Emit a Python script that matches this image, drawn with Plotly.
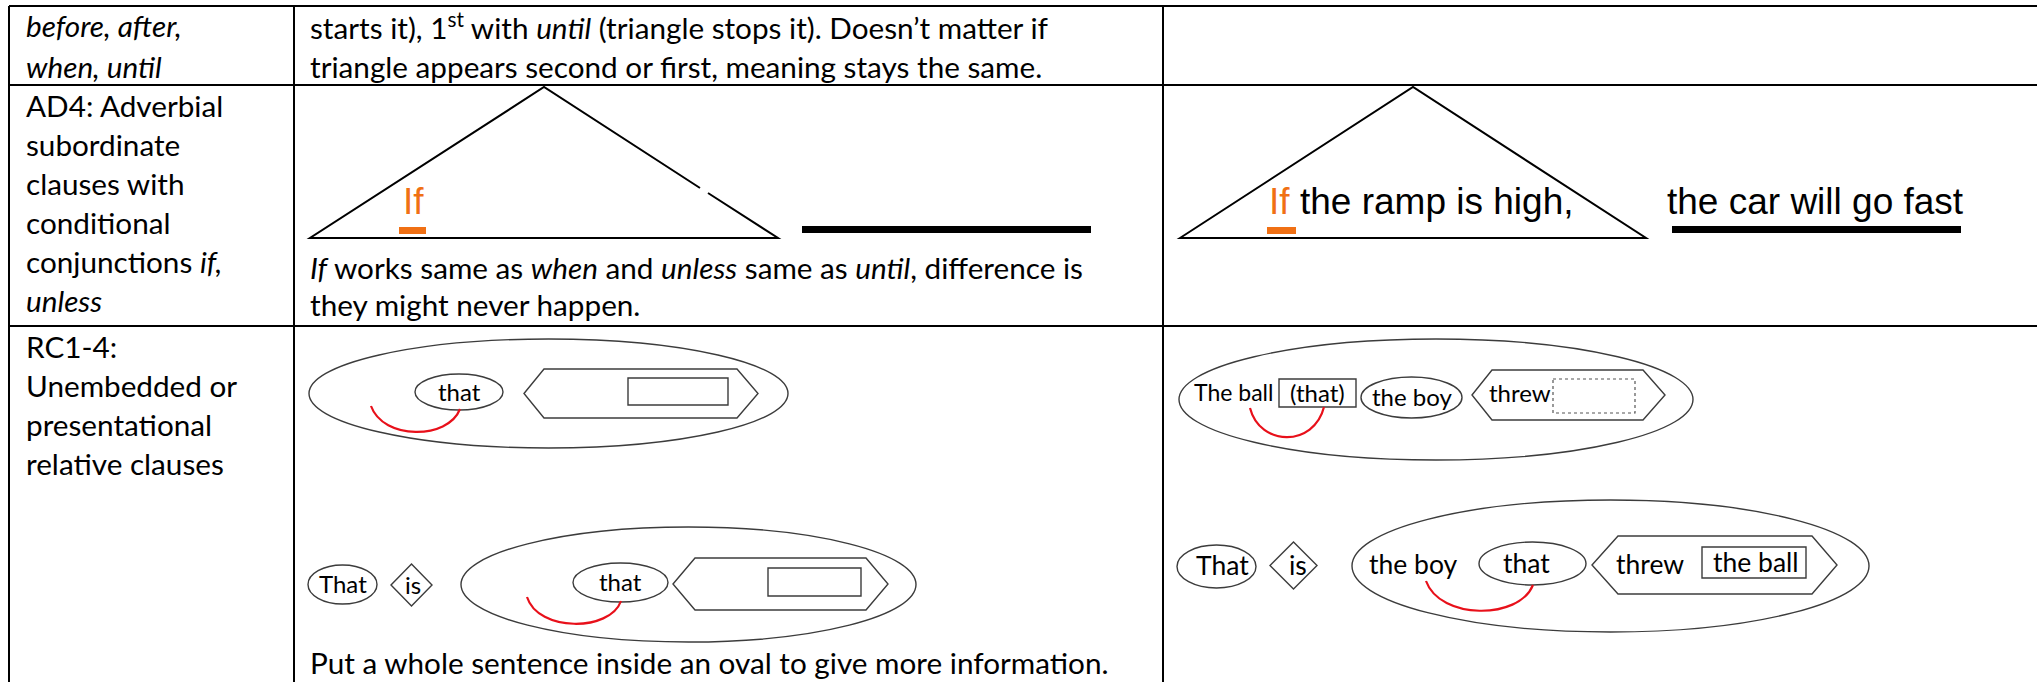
import plotly.graph_objects as go

W, H = 2037, 682

# ---------------- text content ----------------
row1_label = ["<i>before, after,</i>", "<i>when, until</i>"]
row1_desc = ["starts it), 1<sup>st</sup> with <i>until</i> (triangle stops it). Doesn\u2019t matter if",
             "triangle appears second or first, meaning stays the same."]
row2_label = ["AD4: Adverbial", "subordinate", "clauses with", "conditional",
              "conjunctions <i>if,</i>", "<i>unless</i>"]
row2_desc = ["<i>If</i> works same as <i>when</i> and <i>unless</i> same as <i>until</i>, difference is",
             "they might never happen."]
row3_label = ["RC1-4:", "Unembedded or", "presentational", "relative clauses"]
row3_desc = ["Put a whole sentence inside an oval to give more information."]

conj_word = "If"
example_sub = "the ramp is high,"
example_main = "the car will go fast"

rc_top_left_words = ["that"]
rc_bottom_left_words = ["That", "is", "that"]
rc_top_right_words = ["The ball", "(that)", "the boy", "threw"]
rc_bottom_right_words = ["That", "is", "the boy", "that", "threw", "the ball"]

# ---------------- styling ----------------
BODY_FONT = "Lato, 'Open Sans', sans-serif"
ARIAL = "'Liberation Sans', Arial, sans-serif"
ORANGE = "#F07014"
RED = "#E8101A"
GREY = "#3c3c3c"
FS = 29.7
FS_D = 24
FS_B = 26.5

shapes = []
annotations = []


def line(x0, y0, x1, y1, w=2, color="black", dash=None):
    shapes.append(dict(type="line", xref="x", yref="y", x0=x0, y0=y0, x1=x1, y1=y1,
                       line=dict(color=color, width=w, dash=dash)))


def path(pts, w=1.4, color=GREY, closed=True, fill=None):
    d = "M " + " L ".join(f"{x},{y}" for x, y in pts) + (" Z" if closed else "")
    s = dict(type="path", xref="x", yref="y", path=d, line=dict(color=color, width=w))
    if fill:
        s["fillcolor"] = fill
    shapes.append(s)


def ellipse(cx, cy, rx, ry, w=1.4, color=GREY):
    shapes.append(dict(type="circle", xref="x", yref="y", x0=cx - rx, x1=cx + rx,
                       y0=cy - ry, y1=cy + ry, line=dict(color=color, width=w)))


def rect(x0, x1, y0, y1, w=1.4, color=GREY, dash=None, fill=None):
    s = dict(type="rect", xref="x", yref="y", x0=x0, x1=x1, y0=y0, y1=y1,
             line=dict(color=color, width=w, dash=dash))
    if fill:
        s["fillcolor"] = fill
    shapes.append(s)


def hexagon(xl, xtl, xtr, xr, yt, yb):
    ym = (yt + yb) / 2
    path([(xl, ym), (xtl, yt), (xtr, yt), (xr, ym), (xtr, yb), (xtl, yb)])


def diamond(x0, x1, y0, y1):
    xm, ym = (x0 + x1) / 2, (y0 + y1) / 2
    path([(x0, ym), (xm, y0), (x1, ym), (xm, y1)])


def curve(x0, y0, x1, y1, cy, dx):
    shapes.append(dict(type="path", xref="x", yref="y",
                       path=f"M {x0},{y0} C {x0 + dx},{cy} {x1 - dx},{cy} {x1},{y1}",
                       line=dict(color=RED, width=2.2)))


def text(x, y, s, size=FS, anchor="left", font=BODY_FONT, color="black"):
    annotations.append(dict(x=x, y=y, xref="x", yref="y", text=s, showarrow=False,
                            xanchor=anchor, yanchor="middle",
                            font=dict(family=font, size=size, color=color)))


# ---------------- table grid ----------------
X_LEFT, X_C1, X_C2 = 9, 294, 1163
Y_TOP, Y_R1, Y_R2 = 6, 85, 326
line(X_LEFT, Y_TOP, W, Y_TOP)
line(X_LEFT, Y_R1, W, Y_R1)
line(X_LEFT, Y_R2, W, Y_R2)
line(X_LEFT, Y_TOP, X_LEFT, H)
line(X_C1, Y_TOP, X_C1, H)
line(X_C2, Y_TOP, X_C2, H)

# ---------------- table text ----------------
LS = 39
for i, s in enumerate(row1_label):
    text(24, 25 + i * 41, s)
for i, s in enumerate(row1_desc):
    text(308, 25 + i * 41, s)
for i, s in enumerate(row2_label):
    text(24, 105 + i * LS, s)
for i, s in enumerate(row2_desc):
    text(308, 267 + i * 37, s)
for i, s in enumerate(row3_label):
    text(24, 346 + i * LS, s)
for s in row3_desc:
    text(308, 662, s)

# ---------------- AD4 diagrams ----------------
# middle column: triangle (with a small gap on the right edge) + bar
path([(700, 188), (544, 87), (310, 238), (778, 238), (708, 193)], w=2, color="black", closed=False)
rect(399, 426, 227, 234, w=0, color=ORANGE, fill=ORANGE)
rect(802, 1091, 226, 233, w=0, color="black", fill="black")
text(401, 201, conj_word, size=37, font=ARIAL, color=ORANGE)

# right column: triangle with sentence
path([(1180, 238), (1413, 87), (1646, 238)], w=2, color="black")
rect(1267, 1296, 227, 234, w=0, color=ORANGE, fill=ORANGE)
rect(1672, 1961, 226, 233, w=0, color="black", fill="black")
text(1267, 201, conj_word, size=37, font=ARIAL, color=ORANGE)
text(1298, 201, example_sub, size=37, font=ARIAL)
text(1665, 201, example_main, size=37, font=ARIAL)

# ---------------- RC diagrams: middle column ----------------
ellipse(548.5, 393.5, 239.5, 54.5)
ellipse(459, 392, 44, 18)
hexagon(524, 544, 737, 758, 369, 418)
rect(628, 728, 378, 405)
curve(371, 406, 460, 409, 440, 12)
text(459, 391, rc_top_left_words[0], size=FS_D, anchor="center")

ellipse(342.5, 584.5, 34.5, 19.5)
diamond(391, 432, 564, 606)
ellipse(688.5, 584.5, 227.5, 57.5)
ellipse(620.5, 582.5, 47.5, 19.5)
hexagon(673, 695, 866, 888, 558, 610)
rect(768, 861, 568, 596)
curve(527, 597, 621, 601, 632, 11)
text(343, 583, rc_bottom_left_words[0], size=FS_D, anchor="center")
text(413, 584, rc_bottom_left_words[1], size=FS_D, anchor="center")
text(620.5, 581, rc_bottom_left_words[2], size=FS_D, anchor="center")

# ---------------- RC diagrams: right column ----------------
ellipse(1436, 399.5, 257, 60.5)
rect(1279, 1356, 379, 407)
ellipse(1411.5, 397.5, 50.5, 20.5)
hexagon(1472, 1492, 1643, 1665, 370, 420)
rect(1553, 1635, 379, 413, w=1.2, color="#555", dash="dot")
curve(1250, 408, 1324, 407, 447, 10)
text(1233, 392, rc_top_right_words[0], size=23, anchor="center")
text(1317.5, 392, rc_top_right_words[1], size=FS_D, anchor="center")
text(1412, 396, rc_top_right_words[2], size=FS_D, anchor="center")
text(1520, 392, rc_top_right_words[3], size=FS_D, anchor="center")

ellipse(1216.5, 566.5, 39.5, 21.5)
diamond(1270, 1317, 542, 589)
ellipse(1610.5, 566, 258.5, 66)
ellipse(1532.5, 563.5, 53.5, 21.5)
hexagon(1592, 1618, 1812, 1837, 536, 594)
rect(1702, 1806, 547, 578)
curve(1426, 581, 1533, 585, 620, 14)
text(1222, 565, rc_bottom_right_words[0], size=FS_B, anchor="center")
text(1298, 565, rc_bottom_right_words[1], size=FS_B, anchor="center")
text(1413, 564, rc_bottom_right_words[2], size=FS_B, anchor="center")
text(1526, 563, rc_bottom_right_words[3], size=FS_B, anchor="center")
text(1650, 564, rc_bottom_right_words[4], size=FS_B, anchor="center")
text(1756, 562, rc_bottom_right_words[5], size=FS_B, anchor="center")

fig = go.Figure()
fig.update_layout(
    width=W, height=H,
    margin=dict(l=0, r=0, t=0, b=0),
    paper_bgcolor="white", plot_bgcolor="white",
    xaxis=dict(range=[0, W], visible=False, fixedrange=True),
    yaxis=dict(range=[H, 0], visible=False, fixedrange=True),
    shapes=shapes, annotations=annotations, showlegend=False,
)
fig.write_html("out.html", config={"displayModeBar": False},
               post_script="document.body.style.margin='0';document.body.style.overflow='hidden';")
